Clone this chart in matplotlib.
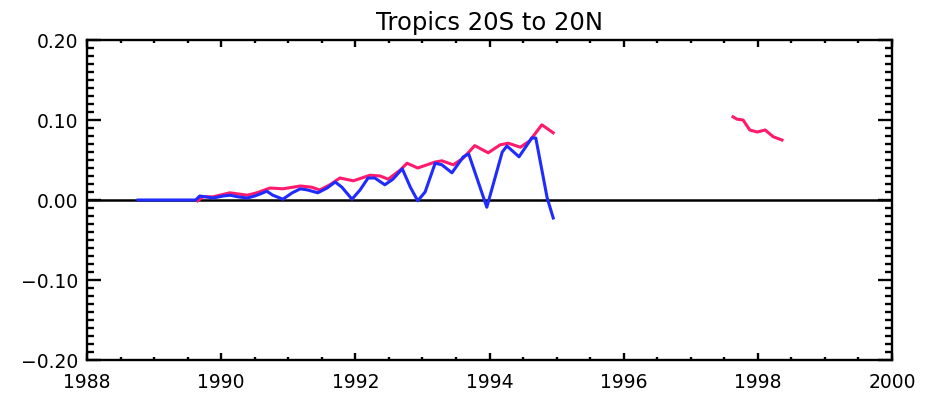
import matplotlib
matplotlib.use("Agg")
import matplotlib.pyplot as plt
from matplotlib.ticker import MultipleLocator

# Blue series (decimal year, anomaly)
blue_t = [1988.76, 1989.62, 1989.68, 1989.76, 1989.88, 1990.03, 1990.13, 1990.25,
          1990.39, 1990.50, 1990.58, 1990.68, 1990.77, 1990.92, 1991.06, 1991.18,
          1991.29, 1991.44, 1991.58, 1991.70, 1991.80, 1991.95, 1992.07, 1992.19,
          1992.29, 1992.44, 1992.56, 1992.70, 1992.82, 1992.93, 1993.04, 1993.19,
          1993.29, 1993.44, 1993.61, 1993.69, 1993.96, 1994.19, 1994.26, 1994.44,
          1994.63, 1994.69, 1994.86, 1994.95]
blue_v = [0.0, 0.0, 0.005, 0.004, 0.0025, 0.005, 0.006, 0.004,
          0.0025, 0.005, 0.0075, 0.011, 0.006, 0.001, 0.009, 0.014,
          0.0125, 0.009, 0.015, 0.0225, 0.016, 0.001, 0.0125, 0.0275,
          0.0275, 0.019, 0.026, 0.039, 0.016, -0.001, 0.010, 0.046,
          0.044, 0.034, 0.054, 0.0575, -0.009, 0.060, 0.0675, 0.054,
          0.0775, 0.0775, 0.0025, -0.0225]

# Red series, first stretch
red_t = [1989.65, 1989.73, 1989.88, 1990.13, 1990.39, 1990.53, 1990.73, 1990.92,
         1991.07, 1991.18, 1991.35, 1991.47, 1991.62, 1991.77, 1991.97, 1992.22,
         1992.37, 1992.49, 1992.67, 1992.77, 1992.93, 1993.19, 1993.29, 1993.46,
         1993.61, 1993.78, 1993.98, 1994.16, 1994.28, 1994.46, 1994.60, 1994.78,
         1994.95]
red_v = [-0.001, 0.004, 0.004, 0.009, 0.006, 0.009, 0.015, 0.014,
         0.016, 0.0175, 0.016, 0.0125, 0.019, 0.0275, 0.024, 0.031,
         0.030, 0.026, 0.0375, 0.046, 0.040, 0.0475, 0.049, 0.044,
         0.0525, 0.068, 0.059, 0.069, 0.071, 0.066, 0.074, 0.094,
         0.084]

# Red series, later stretch
red2_t = [1997.63, 1997.69, 1997.78, 1997.88, 1997.99, 1998.11, 1998.23, 1998.36]
red2_v = [0.104, 0.101, 0.100, 0.0875, 0.085, 0.0875, 0.079, 0.075]

x_ticks = [1988, 1990, 1992, 1994, 1996, 1998, 2000]
y_ticks = [-0.20, -0.10, 0.00, 0.10, 0.20]
y_labels = ["\u22120.20", "\u22120.10", "0.00", "0.10", "0.20"]

RED = "#ff1a6e"
BLUE = "#1f2bff"

fig = plt.figure(figsize=(9.29, 4.03), dpi=100)
ax = fig.add_axes([87 / 929, 43 / 403, (892 - 87) / 929, 320 / 403])

ax.axhline(0.0, color="black", lw=1.8, zorder=1)
ax.plot(red_t, red_v, color=RED, lw=2.2, zorder=2, solid_joinstyle="round")
ax.plot(red2_t, red2_v, color=RED, lw=2.2, zorder=2, solid_joinstyle="round")
ax.plot(blue_t, blue_v, color=BLUE, lw=2.2, zorder=3, solid_joinstyle="round")

ax.set_xlim(1988, 2000)
ax.set_ylim(-0.2, 0.2)
ax.set_xticks(x_ticks)
ax.set_yticks(y_ticks)
ax.set_yticklabels(y_labels)
ax.xaxis.set_minor_locator(MultipleLocator(0.5))
ax.yaxis.set_minor_locator(MultipleLocator(0.01))

for s in ax.spines.values():
    s.set_linewidth(1.7)

ax.tick_params(axis="both", which="both", direction="in", top=True, right=True,
               labelsize=13.5, width=1.7, color="black")
ax.tick_params(axis="x", which="major", length=5, pad=9)
ax.tick_params(axis="x", which="minor", length=2.5)
ax.tick_params(axis="y", which="major", length=10, pad=6)
ax.tick_params(axis="y", which="minor", length=5)

ax.set_title("Tropics 20S to 20N", fontsize=17.5, pad=7)

fig.savefig("out.png", dpi=100, facecolor="white")
